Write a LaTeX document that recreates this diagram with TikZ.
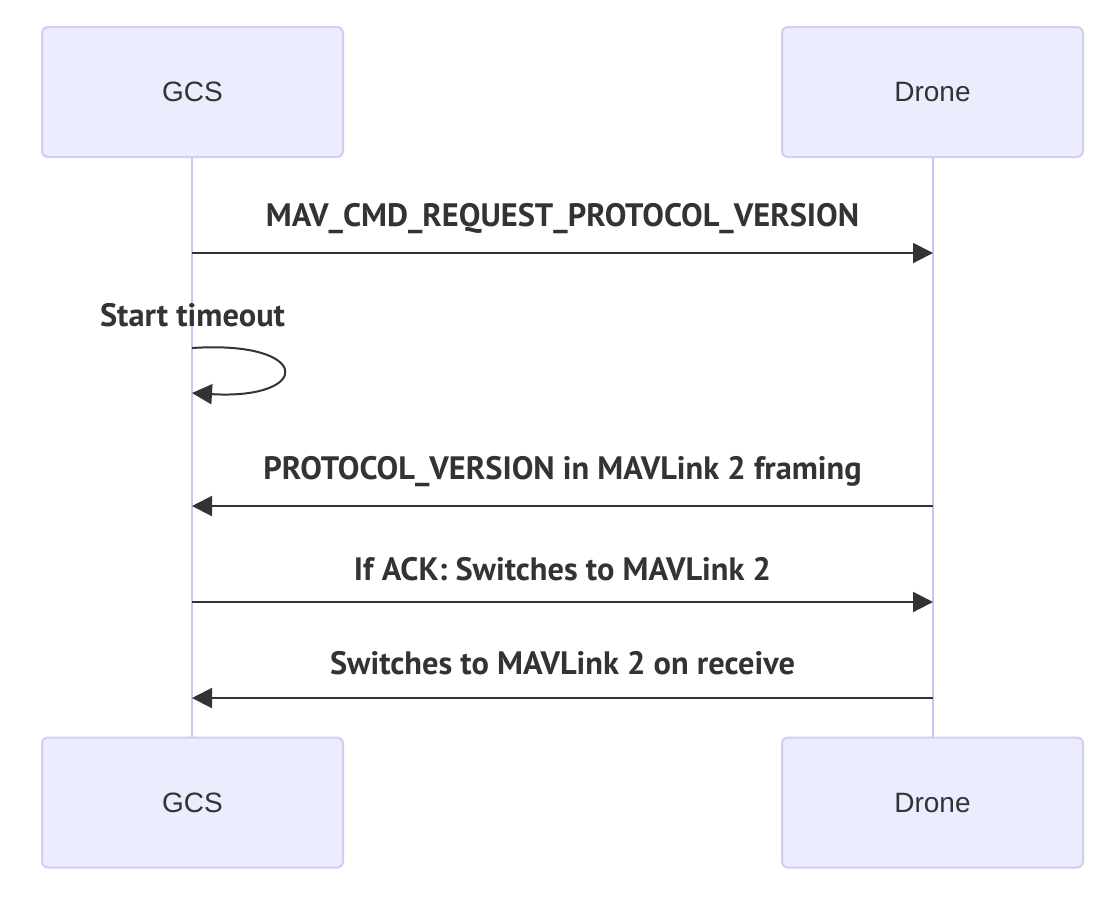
\documentclass[tikz,border=0pt]{standalone}
\usepackage{fontspec}
\setmainfont{Liberation Sans}
\newfontfamily\msgfont{PT Sans}
\usetikzlibrary{arrows.meta}
\definecolor{actfill}{HTML}{ECECFF}
\definecolor{actline}{HTML}{D2CDF3}
\definecolor{lifeline}{HTML}{CBC5F2}
\definecolor{ink}{HTML}{333333}
\newcommand{\actxt}[1]{\raisebox{-1.5pt}{#1}}
\tikzset{
  actor/.style={draw=actline, line width=1pt, fill=actfill, rounded corners=3pt,
    minimum width=150.5pt, minimum height=65pt, inner sep=0pt,
    font=\fontsize{14}{16}\selectfont, text=ink},
  life/.style={draw=lifeline, line width=1pt},
  msg/.style={draw=ink, line width=1pt, -{Triangle[length=10pt,width=10pt]}},
  lbl/.style={font=\msgfont\bfseries\fontsize{16.2}{18}\selectfont, text=ink, inner sep=0pt}
}
\begin{document}
\begin{tikzpicture}[x=0.5pt,y=-0.5pt]
\useasboundingbox (0,0) rectangle (1118,902);
\fill[white] (0,0) rectangle (1118,902);
% lifelines
\coordinate (g1) at (192,157); \coordinate (g2) at (192,738);
\coordinate (d1) at (933,157); \coordinate (d2) at (933,738);
\draw[life] (g1) -- (g2);
\draw[life] (d1) -- (d2);
% actors
\node[actor] (gcsT) at (192.5,92) {\actxt{GCS}};
\node[actor] (droneT) at (932.5,92) {\actxt{Drone}};
\node[actor] (gcsB) at (192.5,802.5) {\actxt{GCS}};
\node[actor] (droneB) at (932.5,802.5) {\actxt{Drone}};
% messages
\coordinate (m1a) at (192,253); \coordinate (m1b) at (933,253);
\draw[msg] (m1a) -- (m1b);
\node[lbl] (l1) at (562.5,219) {MAV\_CMD\_REQUEST\_PROTOCOL\_VERSION};
\node[lbl] (l2) at (192.5,315) {Start timeout};
\coordinate (s1) at (192,348); \coordinate (s2) at (192,393);
\draw[msg] (s1) .. controls (313,340) and (313,400) .. (s2);
\coordinate (m3a) at (933,506); \coordinate (m3b) at (192,506);
\draw[msg] (m3a) -- (m3b);
\node[lbl] (l3) at (562.5,472) {PROTOCOL\_VERSION in MAVLink 2 framing};
\coordinate (m4a) at (192,602); \coordinate (m4b) at (933,602);
\draw[msg] (m4a) -- (m4b);
\node[lbl] (l4) at (562.5,569) {If ACK: Switches to MAVLink 2};
\coordinate (m5a) at (933,698); \coordinate (m5b) at (192,698);
\draw[msg] (m5a) -- (m5b);
\node[lbl] (l5) at (562.5,663) {Switches to MAVLink 2 on receive};
\end{tikzpicture}
\end{document}
